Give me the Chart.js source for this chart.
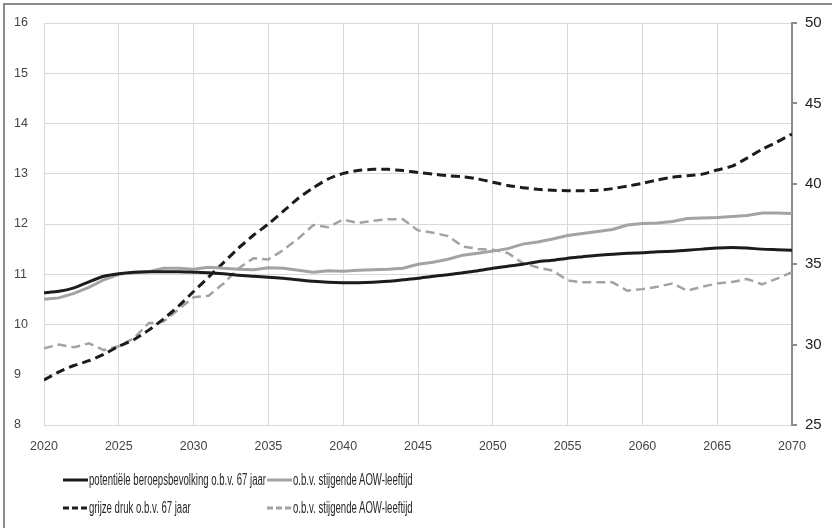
<!DOCTYPE html>
<html>
<head>
<meta charset="utf-8">
<script src="https://cdn.jsdelivr.net/npm/chart.js@4"></script>
<style>
  html, body { margin: 0; padding: 0; background: #fff; }
  #wrap { position: relative; width: 832px; height: 528px; overflow: hidden; }
  #frame { position: absolute; left: 3px; top: 3px; width: 840px; height: 540px;
           border-left: 2px solid #8c8c8c; border-top: 2px solid #8c8c8c; }
  #chart { position: absolute; left: 0; top: 0; }
  .leg { position: absolute; font-family: "Liberation Sans", Arial, sans-serif;
         font-size: 16px; color: #262626; white-space: nowrap; display: flex; align-items: center; }
  .leg svg { margin-right: 1px; }
  .leg span { display: inline-block; transform: scaleX(0.6); transform-origin: left center; }
</style>
</head>
<body>
<div id="wrap">
  <div id="frame"></div>
  <canvas id="chart" width="832" height="528"></canvas>
  <div id="legend"></div>
</div>
<script>
const years = [];
for (let y = 2020; y <= 2070; y++) years.push(y);

const leftTicks = [8, 9, 10, 11, 12, 13, 14, 15, 16];
const rightTicks = [25, 30, 35, 40, 45, 50];

// potentiële beroepsbevolking o.b.v. 67 jaar (linker as)
const beroepsbevolking67 = [
  10.63, 10.66, 10.73, 10.85, 10.96, 11.01, 11.04, 11.05, 11.05, 11.05,
  11.04, 11.03, 11.01, 10.98, 10.96, 10.94, 10.92, 10.89, 10.86, 10.84,
  10.83, 10.83, 10.84, 10.86, 10.89, 10.92, 10.96, 10.99, 11.03, 11.07,
  11.12, 11.16, 11.20, 11.25, 11.28, 11.32, 11.35, 11.38, 11.40, 11.42,
  11.43, 11.45, 11.46, 11.48, 11.50, 11.52, 11.53, 11.52, 11.50, 11.49,
  11.48
];
// o.b.v. stijgende AOW-leeftijd (linker as)
const beroepsbevolkingAOW = [
  10.50, 10.53, 10.62, 10.74, 10.89, 11.00, 11.03, 11.05, 11.12, 11.12,
  11.10, 11.14, 11.12, 11.10, 11.09, 11.13, 11.12, 11.08, 11.04, 11.07,
  11.06, 11.08, 11.09, 11.10, 11.12, 11.20, 11.24, 11.30, 11.38, 11.42,
  11.46, 11.51, 11.60, 11.64, 11.70, 11.77, 11.81, 11.85, 11.89, 11.98,
  12.01, 12.02, 12.05, 12.11, 12.12, 12.13, 12.15, 12.17, 12.22, 12.22,
  12.21
];
// grijze druk o.b.v. 67 jaar (rechter as)
const grijzeDruk67 = [
  27.8, 28.3, 28.7, 29.0, 29.4, 29.9, 30.3, 30.9, 31.6, 32.4,
  33.3, 34.2, 35.1, 36.0, 36.8, 37.5, 38.3, 39.1, 39.75, 40.3,
  40.65, 40.83, 40.9, 40.9, 40.82, 40.7, 40.6, 40.5, 40.44, 40.3,
  40.1, 39.9, 39.76, 39.66, 39.6, 39.57, 39.57, 39.6, 39.7, 39.86,
  40.03, 40.24, 40.4, 40.5, 40.6, 40.86, 41.1, 41.6, 42.15, 42.6,
  43.1
];
// grijze druk o.b.v. stijgende AOW-leeftijd (rechter as)
const grijzeDrukAOW = [
  29.77, 30.0, 29.83, 30.08, 29.66, 29.9, 30.4, 31.33, 31.43, 32.2,
  32.94, 33.04, 33.8, 34.74, 35.37, 35.3, 35.88, 36.6, 37.44, 37.3,
  37.78, 37.56, 37.7, 37.8, 37.8, 37.1, 36.96, 36.75, 36.1, 35.95,
  35.9, 35.7, 35.07, 34.8, 34.6, 34.0, 33.87, 33.87, 33.87, 33.35,
  33.45, 33.6, 33.8, 33.35, 33.6, 33.8, 33.9, 34.08, 33.75, 34.1,
  34.5
];

const labels = [
  'potentiële beroepsbevolking o.b.v. 67 jaar',
  'o.b.v. stijgende AOW-leeftijd',
  'grijze druk o.b.v. 67 jaar',
  'o.b.v. stijgende AOW-leeftijd'
];

const BLACK = '#1c1c1c';
const GRAY = '#a3a3a3';
const tickFont = { family: 'Liberation Sans, Arial, sans-serif', size: 12.5 };

const toPoints = (vals) => vals.map((v, i) => ({ x: years[i], y: v }));

new Chart(document.getElementById('chart'), {
    type: 'line',
    data: {
        datasets: [
            { label: labels[0], data: toPoints(beroepsbevolking67), yAxisID: 'y',
              borderColor: BLACK, borderWidth: 3, pointRadius: 0, tension: 0.2 },
            { label: labels[1], data: toPoints(beroepsbevolkingAOW), yAxisID: 'y',
              borderColor: GRAY, borderWidth: 3, pointRadius: 0, tension: 0 },
            { label: labels[2], data: toPoints(grijzeDruk67), yAxisID: 'y2',
              borderColor: BLACK, borderWidth: 3, borderDash: [9, 5], pointRadius: 0, tension: 0.2 },
            { label: labels[3], data: toPoints(grijzeDrukAOW), yAxisID: 'y2',
              borderColor: GRAY, borderWidth: 2.5, borderDash: [9, 5], pointRadius: 0, tension: 0 }
        ]
    },
    options: {
        responsive: false,
        animation: false,
        layout: { padding: { left: 14, top: 23, right: 0, bottom: 73 } },
        plugins: { legend: { display: false }, tooltip: { enabled: false } },
        scales: {
            x: {
                type: 'linear',
                min: 2020, max: 2070,
                afterFit: (s) => { s.height = 30; },
                afterBuildTicks: (s) => { s.ticks = years.filter(y => y % 5 === 0).map(v => ({ value: v })); },
                ticks: { callback: (v) => String(v), color: '#444', font: tickFont, padding: 14, maxRotation: 0 },
                grid: { color: '#d9d9d9', drawTicks: false },
                border: { display: false }
            },
            y: {
                position: 'left',
                min: 8, max: 16,
                afterFit: (s) => { s.width = 30; },
                afterBuildTicks: (s) => { s.ticks = leftTicks.map(v => ({ value: v })); },
                ticks: { color: '#444', font: tickFont, crossAlign: 'far', padding: 0 },
                grid: { color: '#d9d9d9', drawTicks: false },
                border: { display: false }
            },
            y2: {
                position: 'right',
                min: 25, max: 50,
                afterFit: (s) => { s.width = 40; },
                afterBuildTicks: (s) => { s.ticks = rightTicks.map(v => ({ value: v })); },
                ticks: { color: '#222', font: { family: 'Liberation Sans, Arial, sans-serif', size: 15 }, padding: 8 },
                grid: { drawOnChartArea: false, drawTicks: true, tickLength: 5, color: '#8c8c8c', lineWidth: 2 },
                border: { display: true, color: '#8c8c8c', width: 2 }
            }
        }
    }
});

// legend in two columns, like the original
const legendItems = [
    { text: labels[0], color: BLACK, dash: '', left: 63, top: 471 },
    { text: labels[1], color: GRAY, dash: '', left: 267, top: 471 },
    { text: labels[2], color: BLACK, dash: '6 3', left: 63, top: 499 },
    { text: labels[3], color: GRAY, dash: '6 3', left: 267, top: 499 }
];
const legend = document.getElementById('legend');
legend.innerHTML = legendItems.map(it => `
    <div class="leg" style="left:${it.left}px; top:${it.top}px;">
        <svg width="25" height="18"><line x1="0" y1="9" x2="25" y2="9" stroke="${it.color}"
            stroke-width="3" stroke-dasharray="${it.dash}"/></svg>
        <span>${it.text}</span>
    </div>`).join('');
</script>
</body>
</html>
